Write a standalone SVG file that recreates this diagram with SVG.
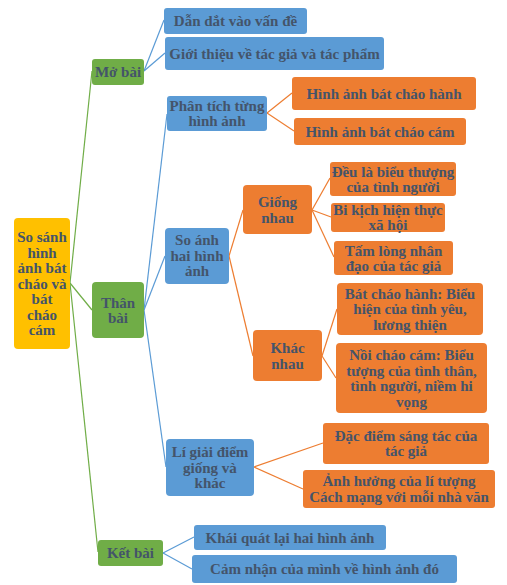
<svg xmlns="http://www.w3.org/2000/svg" width="507" height="585" viewBox="0 0 507 585">
<style>
text{font-family:"Liberation Serif","Times New Roman",serif;font-weight:bold;font-size:15px;fill:#44546A;text-anchor:middle}
.y{fill:#FFC000}.g{fill:#70AD47}.b{fill:#5B9BD5}.o{fill:#ED7D31}
.lg{stroke:#70AD47;stroke-width:1.2;fill:none}.lb{stroke:#5B9BD5;stroke-width:1.2;fill:none}.lo{stroke:#ED7D31;stroke-width:1.2;fill:none}
</style>
<rect width="507" height="585" fill="#fff"/>
<g id="connectors">
<line class="lg" x1="70" y1="283" x2="92" y2="71"/>
<line class="lg" x1="70" y1="283" x2="92" y2="310"/>
<line class="lg" x1="70" y1="283" x2="98" y2="552"/>
<line class="lb" x1="144" y1="71" x2="164" y2="20"/>
<line class="lb" x1="144" y1="71" x2="165" y2="53"/>
<line class="lb" x1="144" y1="310" x2="167" y2="114"/>
<line class="lb" x1="144" y1="310" x2="165" y2="256"/>
<line class="lb" x1="144" y1="310" x2="166" y2="467"/>
<line class="lo" x1="267" y1="113" x2="292" y2="93"/>
<line class="lo" x1="267" y1="113" x2="294" y2="131"/>
<line class="lo" x1="229" y1="256" x2="243" y2="210"/>
<line class="lo" x1="229" y1="256" x2="253" y2="356"/>
<line class="lo" x1="312" y1="210" x2="330" y2="178"/>
<line class="lo" x1="312" y1="210" x2="331" y2="217"/>
<line class="lo" x1="312" y1="210" x2="334" y2="257"/>
<line class="lo" x1="322" y1="356" x2="337" y2="309"/>
<line class="lo" x1="322" y1="356" x2="336" y2="378"/>
<line class="lo" x1="254" y1="467" x2="323" y2="443"/>
<line class="lo" x1="254" y1="467" x2="303" y2="489"/>
<line class="lb" x1="163" y1="553" x2="194" y2="537"/>
<line class="lb" x1="163" y1="553" x2="192" y2="569"/>
</g>
<g id="root"><rect class="y" x="14" y="218" width="56" height="131" rx="4"/>
<text x="42" y="242"><tspan x="42">So sánh</tspan><tspan x="42" dy="15.5">hình</tspan><tspan x="42" dy="15.5">ảnh bát</tspan><tspan x="42" dy="15.5">cháo và</tspan><tspan x="42" dy="15.5">bát</tspan><tspan x="42" dy="15.5">cháo</tspan><tspan x="42" dy="15.5">cám</tspan></text></g>
<g id="mobai"><rect class="g" x="92" y="59" width="52" height="26" rx="3"/><text x="118" y="77">Mở bài</text></g>
<g id="dandat"><rect class="b" x="164" y="8" width="143" height="26" rx="3"/><text x="235.5" y="26">Dẫn dắt vào vấn đề</text></g>
<g id="gioithieu"><rect class="b" x="165" y="37" width="219" height="33" rx="3"/><text x="274.5" y="58.5">Giới thiệu về tác giả và tác phẩm</text></g>
<g id="thanbai"><rect class="g" x="92" y="282" width="52" height="56" rx="4"/><text x="118" y="307.5"><tspan x="118">Thân</tspan><tspan x="118" dy="15.5">bài</tspan></text></g>
<g id="phantich"><rect class="b" x="167" y="96" width="100" height="35" rx="3"/><text x="217" y="110.5"><tspan x="217">Phân tích từng</tspan><tspan x="217" dy="15">hình ảnh</tspan></text></g>
<g id="chaohanh"><rect class="o" x="292" y="77" width="184" height="33" rx="3"/><text x="384" y="98.5">Hình ảnh bát cháo hành</text></g>
<g id="chaocam"><rect class="o" x="294" y="118" width="172" height="27" rx="3"/><text x="380" y="136.5">Hình ảnh bát cháo cám</text></g>
<g id="soanh"><rect class="b" x="165" y="228" width="64" height="56" rx="4"/><text x="197" y="245"><tspan x="197">So ánh</tspan><tspan x="197" dy="15.5">hai hình</tspan><tspan x="197" dy="15.5">ảnh</tspan></text></g>
<g id="giongnhau"><rect class="o" x="243" y="185" width="69" height="49" rx="4"/><text x="277.5" y="207"><tspan x="277.5">Giống</tspan><tspan x="277.5" dy="15.5">nhau</tspan></text></g>
<g id="bieutuong"><rect class="o" x="330" y="162" width="126" height="34" rx="3"/><text x="393" y="176.5"><tspan x="393">Đều là biểu thượng</tspan><tspan x="393" dy="15">của tình người</tspan></text></g>
<g id="bikich"><rect class="o" x="331" y="203" width="114" height="29" rx="3"/><text x="388" y="215"><tspan x="388">Bi kịch hiện thực</tspan><tspan x="388" dy="15">xã hội</tspan></text></g>
<g id="tamlong"><rect class="o" x="334" y="241" width="119" height="34" rx="3"/><text x="393.5" y="255.5"><tspan x="393.5">Tấm lòng nhân</tspan><tspan x="393.5" dy="15">đạo của tác giả</tspan></text></g>
<g id="khacnhau"><rect class="o" x="253" y="330" width="69" height="51" rx="4"/><text x="287.5" y="353"><tspan x="287.5">Khác</tspan><tspan x="287.5" dy="15.5">nhau</tspan></text></g>
<g id="batchaohanh"><rect class="o" x="337" y="283" width="146" height="52" rx="4"/><text x="410" y="298.5"><tspan x="410">Bát cháo hành: Biểu</tspan><tspan x="410" dy="15.5">hiện của tình yêu,</tspan><tspan x="410" dy="15.5">lương thiện</tspan></text></g>
<g id="noichaocam"><rect class="o" x="336" y="343" width="151" height="70" rx="4"/><text x="411.5" y="360"><tspan x="411.5">Nồi cháo cám: Biểu</tspan><tspan x="411.5" dy="15.5">tượng của tình thân,</tspan><tspan x="411.5" dy="15.5">tình người, niềm hi</tspan><tspan x="411.5" dy="15.5">vọng</tspan></text></g>
<g id="ligiai"><rect class="b" x="166" y="439" width="88" height="57" rx="4"/><text x="210" y="457"><tspan x="210">Lí giải điểm</tspan><tspan x="210" dy="15.5">giống và</tspan><tspan x="210" dy="15.5">khác</tspan></text></g>
<g id="dacdiem"><rect class="o" x="323" y="423" width="166" height="41" rx="3"/><text x="406" y="440.5"><tspan x="406">Đặc điểm sáng tác của</tspan><tspan x="406" dy="15.5">tác giả</tspan></text></g>
<g id="anhhuong"><rect class="o" x="303" y="470" width="192" height="38" rx="3"/><text x="399" y="486"><tspan x="399">Ảnh hưởng của lí tượng</tspan><tspan x="399" dy="15.5">Cách mạng với mỗi nhà văn</tspan></text></g>
<g id="ketbai"><rect class="g" x="98" y="540" width="65" height="26" rx="3"/><text x="130.5" y="558">Kết bài</text></g>
<g id="khaiquat"><rect class="b" x="194" y="525" width="192" height="25" rx="3"/><text x="290" y="542.5">Khái quát lại hai hình ảnh</text></g>
<g id="camnhan"><rect class="b" x="192" y="555" width="265" height="28" rx="3"/><text x="324.5" y="574">Cảm nhận của mình về hình ảnh đó</text></g>
</svg>
